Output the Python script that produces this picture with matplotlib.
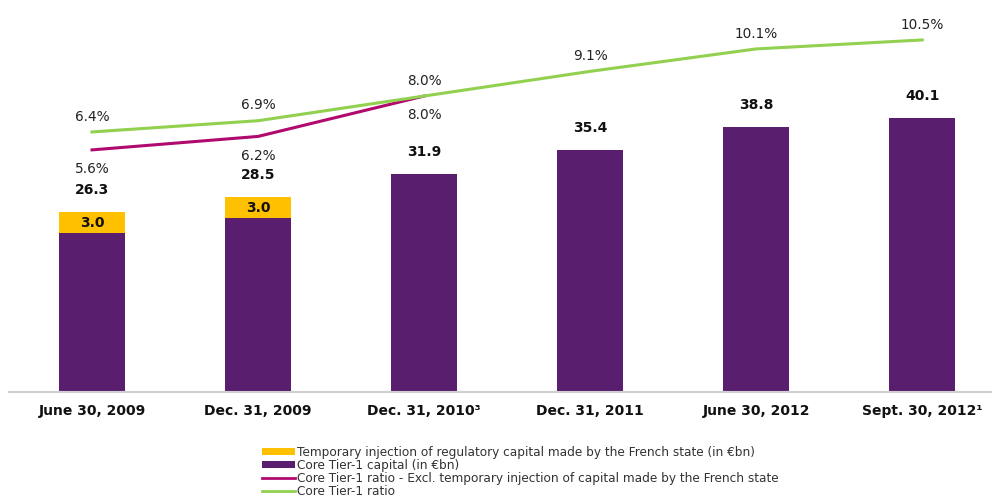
import matplotlib.pyplot as plt
from matplotlib.patches import Patch
from matplotlib.lines import Line2D
import numpy as np

# Data
periods = ['June 30, 2009', 'Dec. 31, 2009', 'Dec. 31, 2010³', 'Dec. 31, 2011',
           'June 30, 2012', 'Sept. 30, 2012¹']
core_capital = [23.3, 25.5, 31.9, 35.4, 38.8, 40.1]
state_injection = [3.0, 3.0, 0.0, 0.0, 0.0, 0.0]
ratio = [6.4, 6.9, 8.0, 9.1, 10.1, 10.5]
ratio_excl = [5.6, 6.2, 8.0]

# Colours
purple = '#5A1E6F'
yellow = '#FFC000'
magenta = '#B00A6E'
green = '#92D050'

fig = plt.figure(figsize = (9.92, 4.97), dpi = 100)
ax = fig.add_axes([9/992, 105/497, 1 - 9/992, 392/497])

x = np.arange(len(periods))
ax.bar(x, core_capital, 0.4, color = purple, zorder = 2)
ax.bar(x, state_injection, 0.4, bottom = core_capital, color = yellow, zorder = 2)

totals = [c + s for c, s in zip(core_capital, state_injection)]
for i in range(len(periods)):
    ax.annotate(f'{totals[i]:.1f}', (x[i], totals[i]), xytext = (0, 16), textcoords = 'offset points',
                ha = 'center', va = 'center', fontsize = 10, fontweight = 'bold', color = '#111111')
    if state_injection[i] > 0:
        ax.text(x[i], core_capital[i] + state_injection[i]/2, f'{state_injection[i]:.1f}',
                ha = 'center', va = 'center', fontsize = 10, fontweight = 'bold', color = '#111111', zorder = 3)

ax.set_xlim(-0.5, 5.42)
ax.set_ylim(0, 57.4)
ax.set_xticks(x)
ax.set_xticklabels(periods, fontsize = 10, fontweight = 'bold', color = '#111111')
ax.tick_params(axis = 'x', length = 0, pad = 8.5)
ax.set_yticks([])
for side in ['top', 'right', 'left']:
    ax.spines[side].set_visible(False)
ax.spines['bottom'].set_color('#D0D0D0')
ax.spines['bottom'].set_linewidth(1.5)

# Ratios on a hidden secondary axis
ax2 = ax.twinx()
ax2.plot(x[:len(ratio_excl)], ratio_excl, color = magenta, linewidth = 2.2)
ax2.plot(x, ratio, color = green, linewidth = 2.2)
ax2.set_ylim(-5.19, 12.28)
ax2.axis('off')

for i, v in enumerate(ratio):
    ax2.annotate(f'{v:.1f}%', (x[i], v), xytext = (0, 11), textcoords = 'offset points',
                 ha = 'center', va = 'center', fontsize = 9.8, color = '#222222')
for i, v in enumerate(ratio_excl):
    ax2.annotate(f'{v:.1f}%', (x[i], v), xytext = (0, -14), textcoords = 'offset points',
                 ha = 'center', va = 'center', fontsize = 9.8, color = '#222222')

legend_elements = [Patch(facecolor = yellow, label = 'Temporary injection of regulatory capital made by the French state (in €bn)'),
                   Patch(facecolor = purple, label = 'Core Tier-1 capital (in €bn)'),
                   Line2D([0], [0], color = magenta, linewidth = 2, label = 'Core Tier-1 ratio - Excl. temporary injection of capital made by the French state'),
                   Line2D([0], [0], color = green, linewidth = 2, label = 'Core Tier-1 ratio')]

fig.legend(handles = legend_elements, loc = 'upper left', bbox_to_anchor = (262/992, 1 - 446/497),
           frameon = False, fontsize = 8.7, labelspacing = 0.0, handlelength = 2.7, handleheight = 0.5,
           handletextpad = 0.2, borderpad = 0, borderaxespad = 0, labelcolor = '#333333')

plt.savefig('out.png', dpi = 100)
